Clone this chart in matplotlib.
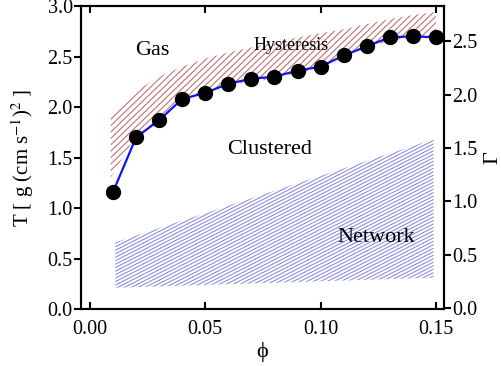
import numpy as np
import matplotlib
matplotlib.use('agg')
import matplotlib.pyplot as plt
from matplotlib.collections import LineCollection

plt.rcParams['font.family'] = ['Liberation Serif', 'DejaVu Serif']
plt.rcParams['mathtext.fontset'] = 'stix'

# transition temperature vs packing fraction
phi = [0.01, 0.02, 0.03, 0.04, 0.05, 0.06, 0.07, 0.08, 0.09, 0.10, 0.11, 0.12, 0.13, 0.14, 0.15]
temp = [1.16, 1.70, 1.87, 2.08, 2.14, 2.23, 2.28, 2.30, 2.36, 2.40, 2.51, 2.60, 2.69, 2.70, 2.69]

# hysteresis band (hatched red)
hyst_phi = [0.009, 0.02, 0.03, 0.04, 0.05, 0.06, 0.07, 0.08, 0.09, 0.10, 0.11, 0.12, 0.13, 0.14, 0.15]
hyst_lo = [1.30, 1.72, 1.88, 2.08, 2.14, 2.22, 2.25, 2.28, 2.34, 2.38, 2.50, 2.58, 2.66, 2.68, 2.68]
hyst_hi = [1.92, 2.16, 2.30, 2.40, 2.48, 2.54, 2.59, 2.64, 2.69, 2.73, 2.77, 2.82, 2.87, 2.91, 2.94]

# network region (hatched blue)
net_phi = [0.011, 0.149]
net_lo = [0.21, 0.31]
net_hi = [0.66, 1.68]


def hatch_region(ax, x, lo, hi, color, angle, gap, lw):
    region = ax.fill_between(x, lo, hi, facecolor='none', edgecolor='none', linewidth=0)
    bb = ax.get_window_extent()
    w, h = bb.width, bb.height
    slope = np.tan(np.radians(angle))
    step = gap / np.cos(np.radians(angle))
    offs = np.arange(-slope * w, h, step)
    segs = [[(0, c / h), (1, (c + slope * w) / h)] for c in offs]
    lines = LineCollection(segs, colors=color, linewidths=lw, transform=ax.transAxes)
    lines.set_clip_path(region.get_paths()[0], ax.transData)
    ax.add_collection(lines, autolim=False)


fig = plt.figure(figsize=(5.02, 3.66), dpi=100)
ax = fig.add_axes([81 / 502, 1 - 309 / 366, 363 / 502, 303 / 366])
ax.set_xlim(-0.0039, 0.1535)
ax.set_ylim(0, 3.0)

hatch_region(ax, hyst_phi, hyst_lo, hyst_hi, '#c07272', 44, 4.6, 0.8)
hatch_region(ax, net_phi, net_lo, net_hi, '#8080dc', 27, 3.1, 0.7)

ax.plot(phi, temp, color='#0a14ff', lw=1.6, zorder=3)
ax.plot(phi, temp, 'o', color='black', ms=10, zorder=4)

ax.text(0.027, 2.56, 'Gas', fontsize=16, ha='center', va='center')
ax.text(0.087, 2.61, 'Hysteresis', fontsize=13, ha='center', va='center')
ax.text(0.078, 1.58, 'Clustered', fontsize=16, ha='center', va='center')
ax.text(0.124, 0.71, 'Network', fontsize=16, ha='center', va='center')

ax.set_xticks([0.0, 0.05, 0.10, 0.15])
ax.set_yticks([0.0, 0.5, 1.0, 1.5, 2.0, 2.5, 3.0])
ax.set_xlabel('ϕ', fontsize=16, labelpad=2)
ax.set_ylabel(r'T [ g (cm s$^{-1}$)$^{2}$ ]', fontsize=15, labelpad=8)

for s in ax.spines.values():
    s.set_linewidth(1.5)
ax.tick_params(axis='x', direction='in', top=True, length=5, width=1.5, pad=8, labelsize=14.5)
ax.tick_params(axis='y', direction='out', length=5, width=1.5, pad=1, labelsize=14.5)

ax2 = ax.twinx()
ax2.set_ylim(-0.01, 2.83)
ax2.set_yticks([0.0, 0.5, 1.0, 1.5, 2.0, 2.5])
ax2.tick_params(axis='y', direction='out', length=5, width=1.5, pad=1, labelsize=14.5)
ax2.set_ylabel('Γ', fontsize=16, labelpad=4)
for s in ax2.spines.values():
    s.set_linewidth(1.5)

fig.savefig('out.png', dpi=100)
